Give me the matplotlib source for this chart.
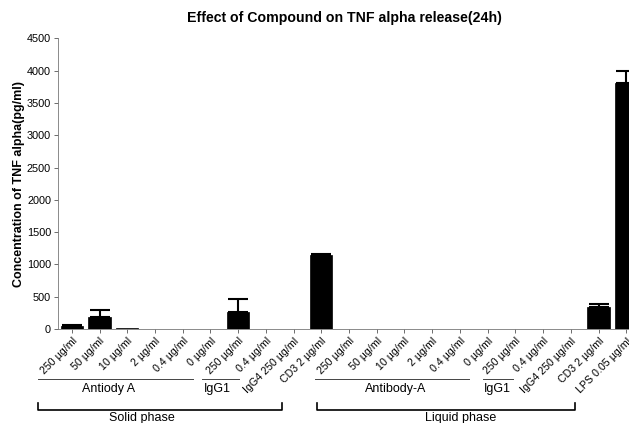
import matplotlib
matplotlib.use("Agg")
import matplotlib.pyplot as plt
import numpy as np
from matplotlib.transforms import blended_transform_factory

plt.rcParams['font.family'] = ['Liberation Sans', 'DejaVu Sans']

labels = ["250 µg/ml", "50 µg/ml", "10 µg/ml", "2 µg/ml", "0.4 µg/ml", "0 µg/ml",
          "250 µg/ml", "0.4 µg/ml", "IgG4 250 µg/ml", "CD3 2 µg/ml",
          "250 µg/ml", "50 µg/ml", "10 µg/ml", "2 µg/ml", "0.4 µg/ml", "0 µg/ml",
          "250 µg/ml", "0.4 µg/ml", "IgG4 250 µg/ml", "CD3 2 µg/ml", "LPS 0.05 µg/ml"]
values = [45, 180, 10, 0, 0, 0, 265, 0, 0, 1145,
          0, 0, 0, 0, 0, 0, 0, 0, 0, 345, 3810]
errors = [15, 115, 0, 0, 0, 0, 205, 0, 0, 10,
          0, 0, 0, 0, 0, 0, 0, 0, 0, 45, 190]

W, H = 629, 423
fig = plt.figure(figsize=(W/100, H/100), dpi=100)
ax_left, ax_right, ax_top, ax_bot = 58, 629, 38.5, 329
ax = fig.add_axes([ax_left/W, 1-ax_bot/H, (ax_right-ax_left)/W, (ax_bot-ax_top)/H])

x = np.arange(len(values))
ax.bar(x, values, width=0.8, color='black', edgecolor='black', linewidth=0.5, zorder=2)
yerr = np.array([np.zeros(len(errors)), errors])
mask = np.array(errors) > 0
ax.errorbar(x[mask], np.array(values)[mask], yerr=yerr[:, mask], fmt='none',
            ecolor='black', elinewidth=1.5, capsize=7.5, capthick=1.5, zorder=3)

ax.set_xlim(-0.5, 20.1)
ax.set_ylim(0, 4500)
ax.set_yticks(np.arange(0, 4501, 500))
ax.tick_params(axis='y', labelsize=7.8, length=3, width=0.6, color='#555555', pad=2)
ax.set_xticks(x)
ax.set_xticklabels(labels, rotation=45, ha='right', va='top', rotation_mode='anchor', fontsize=7.7)
ax.tick_params(axis='x', length=3, width=0.6, color='#555555', pad=2)
for s in ['top', 'right']:
    ax.spines[s].set_visible(False)
for s in ['left', 'bottom']:
    ax.spines[s].set_color('#777777')
    ax.spines[s].set_linewidth(0.6)

ax.set_ylabel("Concentration of TNF alpha(pg/ml)", fontsize=9, fontweight='bold', labelpad=1)
fig.text(344/W, 1-18/H, "Effect of Compound on TNF alpha release(24h)", ha='center', va='center',
         fontsize=10.2, fontweight='bold')

trans = blended_transform_factory(ax.transData, fig.transFigure)
def fy(py):
    return 1 - py/H

def px2d(px):
    return (px - 72) / 27.7

# group underlines
groups = [(38, 193, 109, "Antiody A"), (202, 239, 217, "IgG1"),
          (315, 469, 396, "Antibody-A"), (483, 513, 497, "IgG1")]
for a, b, c, t in groups:
    fig.add_artist(plt.Line2D([px2d(a), px2d(b)], [fy(379), fy(379)], transform=trans,
                              color='#444444', lw=0.7))
    fig.text(px2d(c), fy(389), t, transform=trans, ha='center', va='center', fontsize=9)

brackets = [(38, 282, 142, "Solid phase"), (317, 575, 461, "Liquid phase")]
for a, b, c, t in brackets:
    fig.add_artist(plt.Line2D([px2d(a), px2d(a), px2d(b), px2d(b)],
                              [fy(403), fy(410), fy(410), fy(403)], transform=trans,
                              color='black', lw=1.2))
    fig.text(px2d(c), fy(418), t, transform=trans, ha='center', va='center', fontsize=9)

fig.savefig("out.png", dpi=100)
